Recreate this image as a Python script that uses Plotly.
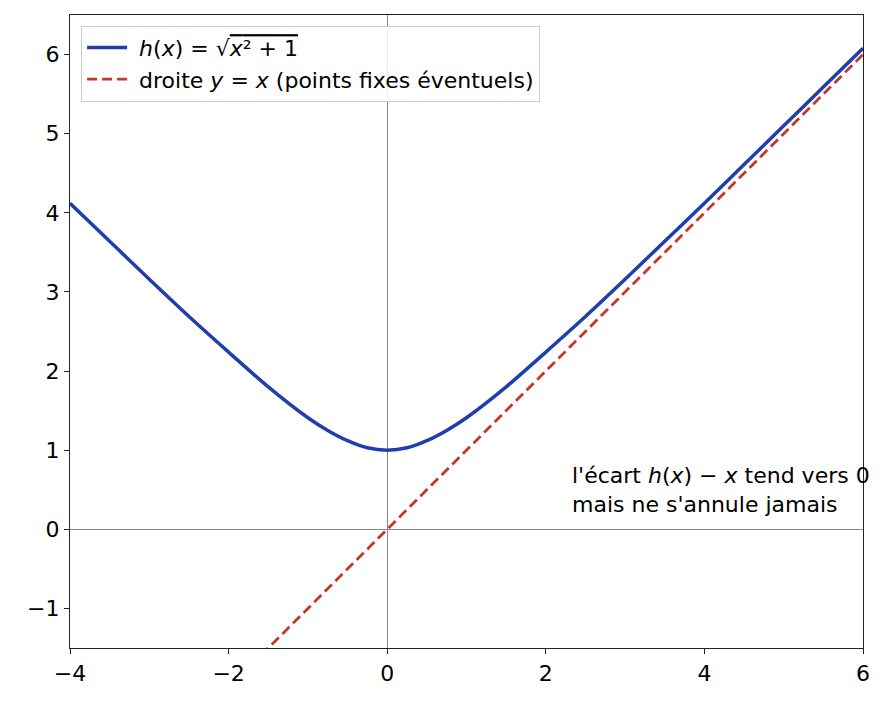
import plotly.graph_objects as go

x_curve = [-4, -3.5, -3, -2.5, -2, -1.5, -1, -0.75, -0.5, -0.25, 0,
           0.25, 0.5, 0.75, 1, 1.5, 2, 2.5, 3, 3.5, 4, 4.5, 5, 5.5, 6]
h_curve = [4.12, 3.64, 3.16, 2.69, 2.24, 1.80, 1.41, 1.25, 1.12, 1.03, 1.00,
           1.03, 1.12, 1.25, 1.41, 1.80, 2.24, 2.69, 3.16, 3.64, 4.12, 4.61, 5.10, 5.59, 6.08]

# droite y = x
x_line = [-4, 6]
y_line = [-4, 6]

x_ticks = [-4, -2, 0, 2, 4, 6]
y_ticks = [-1, 0, 1, 2, 3, 4, 5, 6]

font = "DejaVu Sans"

fig = go.Figure()

fig.add_trace(go.Scatter(
    x=x_curve, y=h_curve, mode="lines",
    line=dict(color="#1f3fad", width=3.5, shape="spline", smoothing=1),
    name=" <i>h</i>(<i>x</i>) = √<span style='text-decoration:overline'><i>x</i>² + 1</span>",
))
fig.add_trace(go.Scatter(
    x=x_line, y=y_line, mode="lines",
    line=dict(color="#c0392b", width=2.8, dash="10px,5px"),
    name=" droite <i>y</i> = <i>x</i> (points fixes éventuels)",
))

fig.add_annotation(
    x=2.3, y=0.5, xref="x", yref="y",
    text="l'écart <i>h</i>(<i>x</i>) − <i>x</i> tend vers 0<br>mais ne s'annule jamais",
    showarrow=False, xanchor="left", yanchor="middle", align="left",
    font=dict(family=font, size=22, color="black"),
)

axis_style = dict(
    showgrid=False, showline=True, linecolor="#222", linewidth=1.3, mirror=True,
    ticks="outside", ticklen=5, tickwidth=1.3, tickcolor="#222",
    zeroline=True, zerolinecolor="#888", zerolinewidth=1,
    tickfont=dict(family=font, size=22, color="black"),
)

fig.update_xaxes(range=[-4, 6], tickvals=x_ticks,
                 ticktext=[str(v).replace("-", "−") for v in x_ticks], **axis_style)
fig.update_yaxes(range=[-1.5, 6.5], tickvals=y_ticks,
                 ticktext=[str(v).replace("-", "−") for v in y_ticks], **axis_style)

# the page adds 8px around the figure
fig.update_layout(
    width=881, height=698,
    margin=dict(l=62, r=26, t=7, b=58),
    plot_bgcolor="white", paper_bgcolor="white",
    font=dict(family=font, color="black"),
    legend=dict(
        x=0.014, y=0.983, xanchor="left", yanchor="top",
        bgcolor="rgba(255,255,255,0.85)", bordercolor="#ccc", borderwidth=1,
        font=dict(family=font, size=22), itemwidth=40,
    ),
)

fig.write_html("out.html")
